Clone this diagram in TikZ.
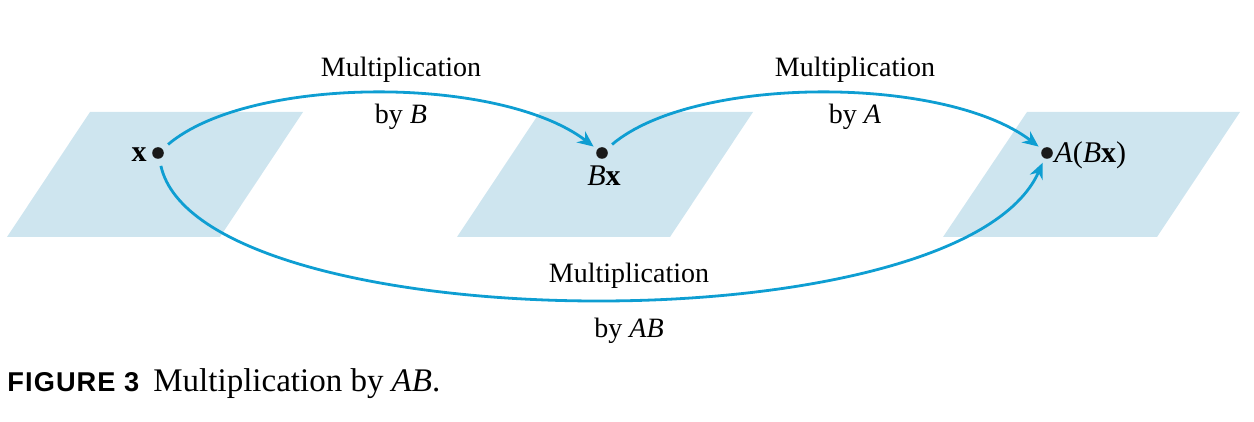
\documentclass[tikz,border=0pt]{standalone}
\usepackage{fontspec}
\setmainfont{Liberation Serif}
\newfontfamily\capsans{Liberation Sans}
\usetikzlibrary{arrows.meta}
\definecolor{planefill}{RGB}{206,229,239}
\definecolor{arrowblue}{RGB}{14,158,210}
\begin{document}
\begin{tikzpicture}[x=0.5pt,y=-0.5pt,
  plane/.style={fill=planefill,draw=none},
  dotnode/.style={circle,fill=black!90,inner sep=0pt,minimum size=5.8pt},
  arr/.style={draw=arrowblue,line width=1.4pt,-{Stealth[length=8pt,width=7pt]},shorten <=3.5pt,shorten >=2.2pt},
  lbl/.style={font=\fontsize{14}{16}\selectfont,inner sep=0pt,anchor=base},
  plbl/.style={font=\fontsize{15}{17}\selectfont,inner sep=0pt,anchor=base}]
\useasboundingbox (0,0) rectangle (1254,422);
% planes
\fill[plane] (90,112) -- (303,112) -- (220,237) -- (7,237) -- cycle;
\fill[plane] (540,112) -- (753,112) -- (670,237) -- (457,237) -- cycle;
\fill[plane] (1027,112) -- (1240,112) -- (1157,237) -- (943,237) -- cycle;
% dots
\node[dotnode] (dx) at (158,153) {};
\node[dotnode] (dbx) at (602,153) {};
\node[dotnode] (dabx) at (1047,153) {};
% point labels
\node[plbl,anchor=base east] (lx) at (147,162) {\textbf{x}};
\node[plbl] (lbx) at (604,186) {\textit{B}\textbf{x}};
\node[plbl,anchor=base west] (labx) at (1054,163) {\textit{A}(\textit{B}\textbf{x})};
% connectors
\draw[arr] (dx) .. controls +(92,-78) and +(-102,-78) .. (dbx);
\draw[arr] (dbx) .. controls +(92,-78) and +(-102,-78) .. (dabx);
\draw[arr] (dx) .. controls +(42,187) and +(-87,197) .. (dabx);
% arc labels
\node[lbl] (m1) at (401,77) {Multiplication};
\node[lbl] (b1) at (401,124) {by \textit{B}};
\node[lbl] (m2) at (855,77) {Multiplication};
\node[lbl] (b2) at (855,124) {by \textit{A}};
\node[lbl] (m3) at (629,283) {Multiplication};
\node[lbl] (b3) at (629,338) {by \textit{AB}};
% caption
\node[inner sep=0pt,anchor=base west] (figlab) at (7,392) {\capsans\addfontfeature{LetterSpace=4}\fontsize{13.6}{16}\selectfont\bfseries FIGURE 3};
\node[inner sep=0pt,anchor=base west] (figcap) at (153,392) {\fontsize{16.5}{19}\selectfont Multiplication by \textit{AB}.};
\end{tikzpicture}
\end{document}
